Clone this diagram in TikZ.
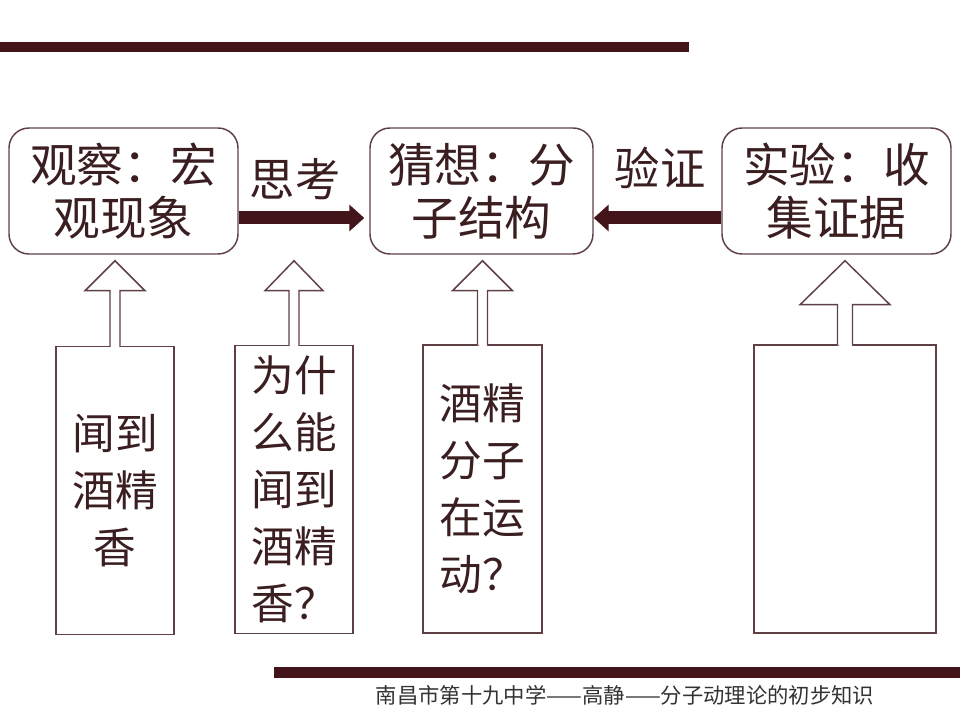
\documentclass[tikz,border=0pt]{standalone}
\usepackage{fontspec}
\newfontfamily\cjk{Noto Sans CJK SC}
\usetikzlibrary{calc, arrows.meta}
\definecolor{maroon}{HTML}{431419}
\definecolor{edge}{HTML}{5E4045}
\definecolor{ink}{HTML}{3A1E20}

\begin{document}
\begin{tikzpicture}[x=0.75pt, y=-0.75pt,
  topbox/.style={draw=edge, line width=1.1pt, rounded corners=15pt, minimum height=94.5pt,
    inner sep=0pt, align=center, text=ink, font=\cjk\fontsize{35}{39.75}\selectfont},
  lowbox/.style={draw=edge, line width=1.1pt, minimum height=216pt,
    inner sep=0pt, align=center, text=ink, font=\cjk\fontsize{32}{42.75}\selectfont},
  verb/.style={text=ink, inner sep=0pt, font=\cjk\fontsize{34}{40}\selectfont},
  thickarrow/.style={draw=maroon, line width=9.75pt, -{Triangle[length=11.25pt, width=19.5pt]}},
  blockarrow/.style={draw=edge, line width=1.1pt, fill=white, line join=miter}]
\useasboundingbox (0,0) rectangle (960,720);
\fill[maroon] (0,42) rectangle (689,52);
\fill[maroon] (274,667) rectangle (960,678);
% top row
\node[topbox, minimum width=171.75pt] (t1) at (123.5,191) {观察：宏\\观现象};
\node[topbox, minimum width=167.25pt] (t2) at (481.5,191) {猜想：分\\子结构};
\node[topbox, minimum width=171.75pt] (t3) at (836.5,191) {实验：收\\集证据};
\node[verb] (think) at (295,179) {思考};
\node[verb] (check) at (660,168) {验证};
\draw[thickarrow] ($(t1.east)+(0,27)$) -- ($(t2.west)+(-5,27)$);
\draw[thickarrow] ($(t3.west)+(0,27)$) -- ($(t2.east)+(0,27)$);
% bottom row
\node[lowbox, minimum width=88.5pt] (b1) at (115,490.5) {闻到\\酒精\\香};
\node[lowbox, minimum width=88.5pt] (b2) at (294,489.5) {为什\\么能\\闻到\\酒精\\香？};
\node[lowbox, minimum width=89.25pt] (b3) at (482.5,489) {酒精\\分子\\在运\\动？};
\node[lowbox, minimum width=136.5pt] (b4) at (845,489) {};
\foreach \bn/\sw/\hw/\hl in {b1/5/30/30, b2/5/29/30, b3/5/30/30, b4/7.5/45/44} {
  \coordinate (tip) at ($(\bn.north |- t2.south)+(0,6)$);
  \fill[white] ($(\bn.north)+(-\sw+1,-1)$) rectangle ($(\bn.north)+(\sw-1,3)$);
  \draw[blockarrow] ($(\bn.north)+(-\sw,1)$) -- ($(tip)+(-\sw,\hl)$) -- ($(tip)+(-\hw,\hl)$)
    -- (tip) -- ($(tip)+(\hw,\hl)$) -- ($(tip)+(\sw,\hl)$) -- ($(\bn.north)+(\sw,1)$);
}
\node[text=black!80, inner sep=0pt, font=\cjk\fontsize{16}{18}\selectfont] (foot) at (625,695)
  {南昌市第十九中学——高静——分子动理论的初步知识};
\end{tikzpicture}
\end{document}
